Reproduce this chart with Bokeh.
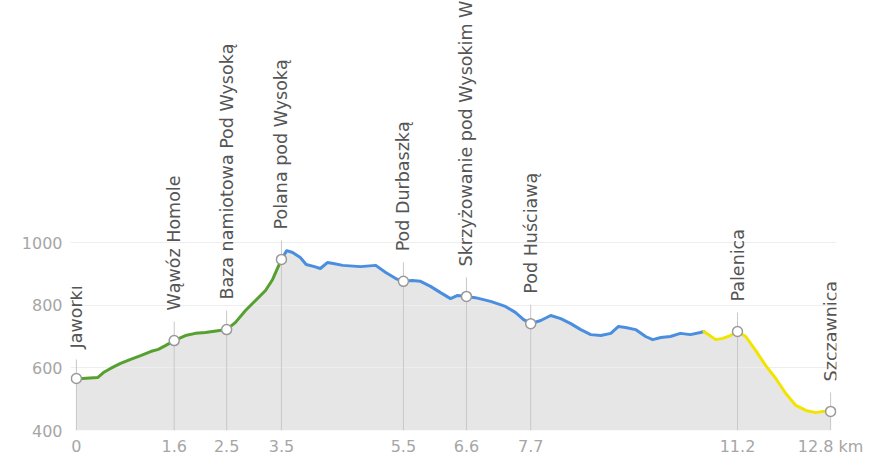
import numpy as np
from bokeh.plotting import figure
from bokeh.models import FixedTicker, Range1d
from bokeh.core.properties import value
from bokeh.embed import file_html
from bokeh.resources import INLINE

# ---- data ----
dist_km = [0.00, 0.10, 0.36, 0.46, 0.58, 0.75, 0.92, 1.09, 1.26, 1.39, 1.51, 1.66,
           1.85, 2.02, 2.19, 2.31, 2.55, 2.70, 2.87, 3.04, 3.21, 3.33, 3.48,
           3.57, 3.67, 3.80, 3.90, 4.04, 4.14, 4.26, 4.36, 4.52, 4.82, 5.08, 5.25,
           5.42, 5.55, 5.70, 5.84, 6.01, 6.18, 6.35, 6.47, 6.62, 6.77, 7.03, 7.28,
           7.45, 7.59, 7.71, 7.88, 8.05, 8.22, 8.39, 8.56, 8.73, 8.90, 9.07, 9.20,
           9.32, 9.49, 9.66, 9.78, 9.92, 10.08, 10.25, 10.42, 10.59, 10.65,
           10.85, 10.97, 11.10, 11.22, 11.36, 11.53, 11.70, 11.87, 12.04, 12.21,
           12.38, 12.55, 12.67, 12.80]
elev_m = [566, 566, 569, 585, 598, 614, 627, 639, 652, 659, 671, 687,
          703, 710, 713, 716, 722, 745, 783, 815, 847, 882, 946,
          974, 968, 952, 930, 923, 917, 936, 933, 927, 923, 927, 904,
          885, 876, 879, 876, 860, 840, 821, 831, 828, 824, 812, 796,
          777, 754, 741, 751, 767, 757, 741, 722, 706, 703, 710, 732,
          729, 722, 700, 690, 697, 700, 710, 706, 713, 716,
          690, 694, 703, 716, 700, 655, 607, 566, 518, 480,
          464, 457, 461, 461]
segment_breaks_km = [3.48, 10.65]
segment_colors = ["#55a02e", "#4a8ee0", "#f2e400"]

waypoint_names = ["Jaworki", "Wąwóz Homole", "Baza namiotowa Pod Wysoką",
                  "Polana pod Wysoką", "Pod Durbaszką",
                  "Skrzyżowanie pod Wysokim Wierchem", "Pod Huściawą",
                  "Palenica", "Szczawnica"]
waypoint_km = [0.0, 1.66, 2.55, 3.48, 5.55, 6.62, 7.71, 11.22, 12.80]
waypoint_elev = [566, 687, 722, 946, 876, 828, 741, 716, 461]
x_tick_labels = ["0", "1.6", "2.5", "3.5", "5.5", "6.6", "7.7", "11.2", "12.8 km"]
y_ticks = [400, 600, 800, 1000]

# ---- layout ----
W, H = 873, 458
BORDER_BOTTOM = 28
frame_h = H - BORDER_BOTTOM
y_start = 400
y_end = y_start + frame_h / 0.31333
m_per_px = (y_end - y_start) / frame_h

p = figure(width=W, height=H, output_backend="svg", toolbar_location=None,
           x_range=Range1d(-0.1, 12.9), y_range=Range1d(y_start, y_end),
           min_border_left=70, min_border_right=37, min_border_top=0,
           min_border_bottom=BORDER_BOTTOM)
p.outline_line_color = None
p.background_fill_color = "white"
p.border_fill_color = "white"

# grid
p.xgrid.visible = False
p.ygrid.ticker = FixedTicker(ticks=y_ticks)
p.ygrid.grid_line_color = "#eeeeee"
p.ygrid.grid_line_width = 1

# axes
for ax in (p.xaxis, p.yaxis):
    ax.axis_line_color = None
    ax.major_tick_line_color = None
    ax.minor_tick_line_color = None
    ax.major_tick_out = 0
    ax.major_tick_in = 0
    ax.minor_tick_out = 0
    ax.minor_tick_in = 0
    ax.major_label_text_font = "DejaVu Sans"
    ax.major_label_text_font_size = "16px"
    ax.major_label_text_color = "#a6a6a6"
p.yaxis.ticker = FixedTicker(ticks=y_ticks)
p.yaxis.major_label_standoff = 8
p.xaxis.ticker = FixedTicker(ticks=waypoint_km)
p.xaxis.major_label_overrides = {k: lab for k, lab in zip(waypoint_km, x_tick_labels)}
p.xaxis.major_label_standoff = 6

# area under profile
p.varea(x=dist_km, y1=[y_start] * len(dist_km), y2=elev_m,
        fill_color="#e6e6e6", level="image")

# waypoint vertical lines
p.segment(x0=waypoint_km, y0=[y_start] * len(waypoint_km), x1=waypoint_km,
          y1=[e + 19 * m_per_px for e in waypoint_elev],
          line_color="#c8c8c8", line_width=1)

# profile segments
d = np.array(dist_km)
e = np.array(elev_m)
bounds = [d[0]] + segment_breaks_km + [d[-1]]
for i, col in enumerate(segment_colors):
    m = (d >= bounds[i] - 1e-9) & (d <= bounds[i + 1] + 1e-9)
    p.line(d[m], e[m], line_color=col, line_width=3, line_join="round", line_cap="round")

# waypoint markers
p.scatter(waypoint_km, waypoint_elev, size=10, fill_color="white",
          line_color="#999999", line_width=1.5)

# waypoint labels
p.text(x=waypoint_km, y=[e_ + 30 * m_per_px for e_ in waypoint_elev],
       text=waypoint_names, angle=np.pi / 2, text_align="left",
       text_baseline="middle", text_font=value("DejaVu Sans"),
       text_font_size="17.5px", text_color="#555555")

open("out.html", "w").write(file_html(p, INLINE))
